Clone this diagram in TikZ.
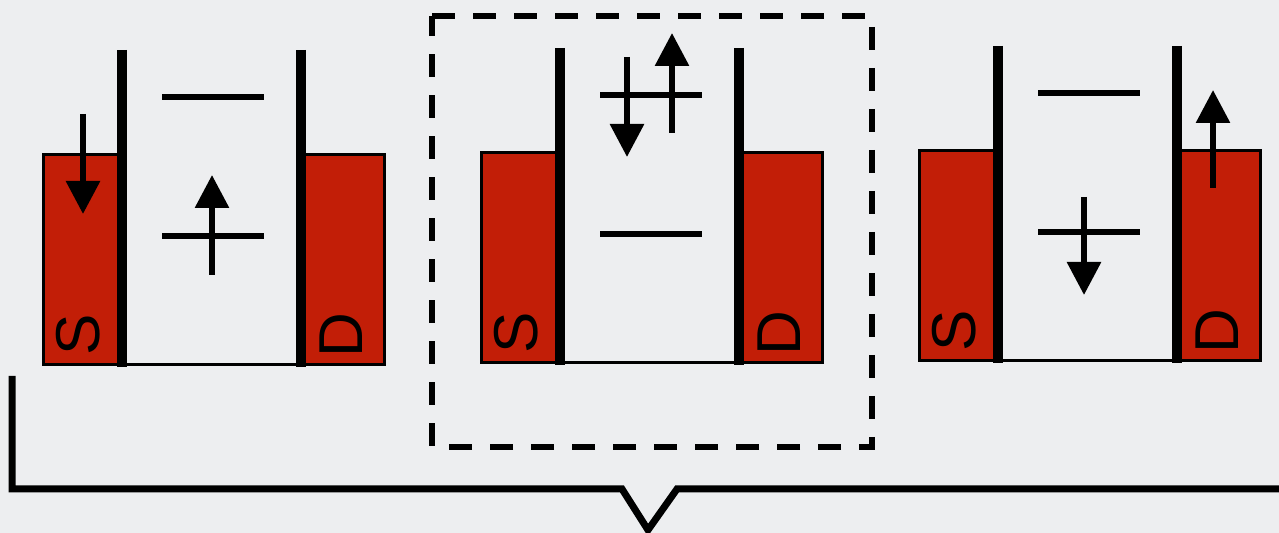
\documentclass[tikz,border=0pt]{standalone}
\usepackage{fontspec}
\setmainfont{Liberation Sans}
\usetikzlibrary{arrows.meta}
\definecolor{bgGray}{HTML}{EDEEF0}
\definecolor{contactRed}{HTML}{C21E07}

\begin{document}
\begin{tikzpicture}[
			x=0.5pt,y=-0.5pt,
			contact/.style={draw=black,line width=1.5pt,fill=contactRed},
			wall/.style={draw=black,line width=5pt},
			level/.style={draw=black,line width=3.25pt},
			spin/.style={-{Triangle[length=16.5pt,width=16.5pt]},draw=black,line width=3pt},
			lbl/.style={font=\fontsize{31pt}{31pt}\selectfont,rotate=90,inner sep=0pt},
			frame/.style={draw=black,line width=2.75pt,dash pattern=on 11.5pt off 9pt},
			brace/.style={draw=black,line width=3.5pt,line join=miter}]
			\useasboundingbox (0,0) rectangle (1279,533);
			\fill[bgGray] (0,0) rectangle (1279,533);
			% the three dots, source left and drain right
			\foreach \i/\dx/\dy in {1/0/0,2/438/-2,3/876/-4}{
				\begin{scope}[shift={(\dx,\dy)}]
					\draw[contact] (43,155) rectangle (120,365);
					\draw[contact] (304,155) rectangle (384,365);
					\draw[line width=1.5pt] (122,365) -- (301,365);
					\draw[wall] (122,50) -- (122,367);
					\draw[wall] (301,50) -- (301,367);
					\draw[level] (162,97) -- (264,97);
					\draw[level] (162,236) -- (264,236);
					\node[lbl] (S\i) at (78,335) {S};
					\node[lbl] (D\i) at (341,335) {D};
				\end{scope}
			}
			% spins
			\draw[spin] (83,114) -- (83,214);
			\draw[spin] (212,275) -- (212,175);
			\draw[spin] (627,57) -- (627,157);
			\draw[spin] (672,133) -- (672,33);
			\draw[spin] (1084,197) -- (1084,295);
			\draw[spin] (1213,188) -- (1213,90);
			% blocked state
			\draw[frame] (432,16) -- (872,16) -- (872,447) -- (432,447) -- cycle;
			\draw[brace] (12,376) -- (12,489) -- (622,489) -- (648,530) -- (677,489) -- (1285,489);
		\end{tikzpicture}
\end{document}
